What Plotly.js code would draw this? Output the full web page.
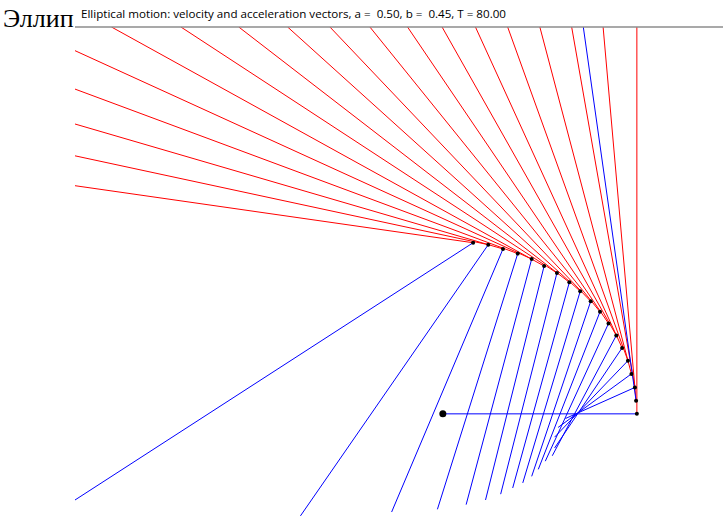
<!DOCTYPE html>
<html>
<head>
<meta charset="utf-8">
<script src="https://cdn.plot.ly/plotly-3.0.1.min.js"></script>
<style>html,body{margin:0;padding:0;background:#fff;}#chart{width:723px;height:519px;}</style>
</head>
<body>
<div id="chart"></div>
<script>
// Points on the ellipse (position at each time step)
const posX = [0.500, 0.498, 0.495, 0.486, 0.477, 0.462, 0.447, 0.427, 0.405, 0.381, 0.354, 0.326, 0.294, 0.261, 0.229, 0.193, 0.155, 0.117, 0.078];
const posY = [0.000, 0.0335, 0.068, 0.103, 0.137, 0.170, 0.202, 0.233, 0.263, 0.290, 0.316, 0.339, 0.363, 0.381, 0.399, 0.413, 0.425, 0.436, 0.441];
// Velocity vector tips (red)
const velX = [0.500, 0.413, 0.332, 0.250, 0.167, 0.084, -0.002, -0.091, -0.188, -0.291, -0.400, -0.526, -0.675, -0.854, -0.948, -0.948, -0.948, -0.948, -0.948];
const velY = [0.997, 0.997, 0.997, 0.997, 0.997, 0.997, 0.997, 0.997, 0.997, 0.997, 0.997, 0.997, 0.997, 0.997, 0.936, 0.837, 0.747, 0.665, 0.588];
// Acceleration vector tips (blue)
const accX = [0.000, 0.362, 0.316, 0.297, 0.288, 0.288, 0.282, 0.264, 0.246, 0.229, 0.206, 0.180, 0.149, 0.110, 0.060, -0.014, -0.132, -0.367, -0.948];
const accY = [0.000, 0.997, -0.012, -0.035, -0.060, -0.088, -0.108, -0.122, -0.143, -0.161, -0.178, -0.191, -0.207, -0.222, -0.234, -0.246, -0.253, -0.263, -0.222];
// Centre of the ellipse
const centreX = [0.0];
const centreY = [0.0];
const titleText = "Elliptical motion: velocity and acceleration vectors, a = \u00a00.50, b = \u00a00.45, T = 80.00";
const cutTitle = "Эллип";

function segs(x0, y0, x1, y1) {
  const xs = [], ys = [];
  for (let i = 0; i < x0.length; i++) {
    xs.push(x0[i], x1[i], null);
    ys.push(y0[i], y1[i], null);
  }
  return {xs, ys};
}
const vs = segs(posX, posY, velX, velY);
const as = segs(posX, posY, accX, accY);

const traces = [
  {x: vs.xs, y: vs.ys, mode: 'lines', line: {color: '#ff0000', width: 1}, hoverinfo: 'skip', showlegend: false},
  {x: as.xs, y: as.ys, mode: 'lines', line: {color: '#0000ff', width: 1}, hoverinfo: 'skip', showlegend: false},
  {x: posX, y: posY, mode: 'markers', marker: {color: '#000', size: 4}, hoverinfo: 'skip', showlegend: false},
  {x: centreX, y: centreY, mode: 'markers', marker: {color: '#000', size: 7}, hoverinfo: 'skip', showlegend: false}
];

const layout = {
  width: 723, height: 519,
  margin: {l: 75, r: 0, t: 27, b: 0, pad: 0},
  paper_bgcolor: '#fff', plot_bgcolor: '#fff',
  xaxis: {range: [-0.948, 0.722], visible: false, showgrid: false, zeroline: false, fixedrange: true},
  yaxis: {range: [-0.271, 0.997], visible: false, showgrid: false, zeroline: false, fixedrange: true},
  shapes: [
    {type: 'line', xref: 'paper', yref: 'paper', x0: 0, x1: 1, y0: 1, y1: 1, line: {color: '#8c8c8c', width: 1.5}}
  ],
  annotations: [
    {text: titleText, xref: 'paper', yref: 'paper', x: 0.006, y: 1, xanchor: 'left', yanchor: 'bottom', yshift: 4,
     showarrow: false, font: {family: 'Open Sans, Noto Sans, sans-serif', size: 11.6, color: '#000'}},
    {text: cutTitle, xref: 'paper', yref: 'paper', x: -75/648, y: 1, xanchor: 'left', yanchor: 'bottom', xshift: 1, yshift: -8,
     showarrow: false, font: {family: 'Liberation Serif, DejaVu Serif, serif', size: 26, color: '#000'}}
  ]
};

Plotly.newPlot('chart', traces, layout, {staticPlot: true, displayModeBar: false});
</script>
</body>
</html>
